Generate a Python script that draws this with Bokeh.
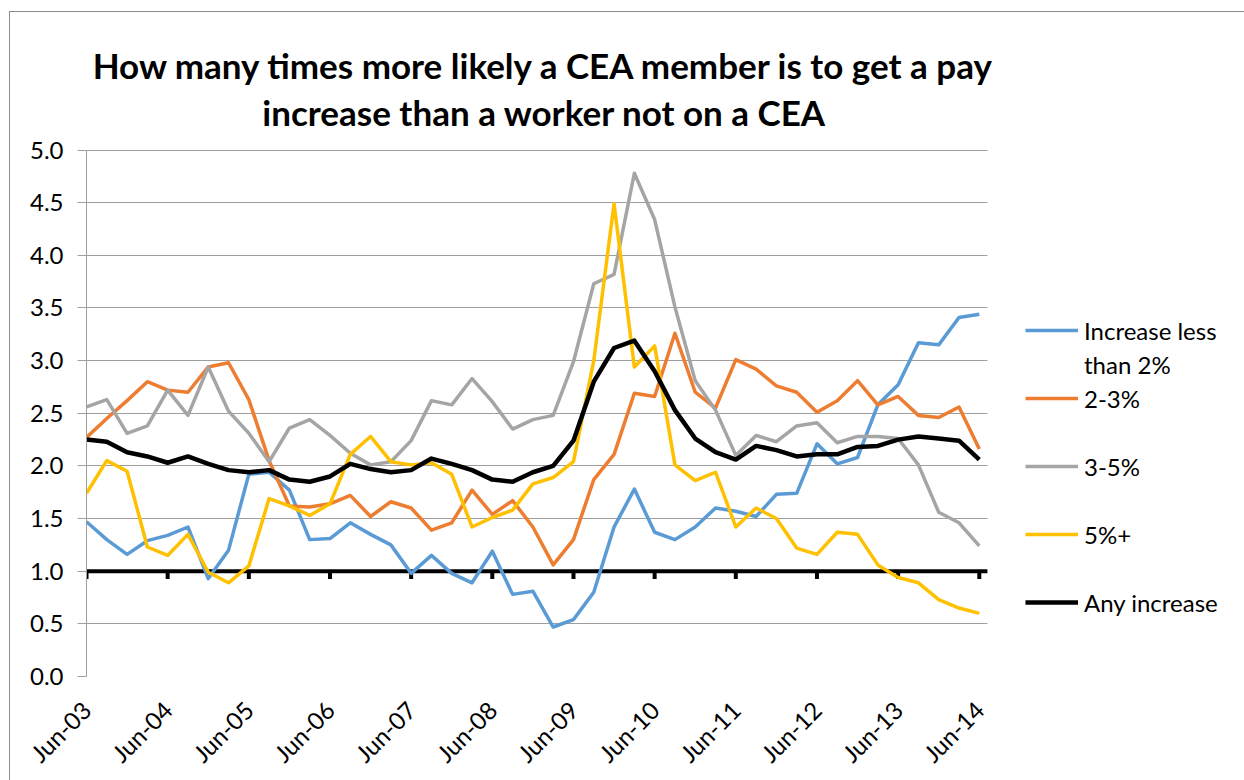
import math
from bokeh.plotting import figure
from bokeh.models import (Legend, LegendItem, FixedTicker, Label, Span, BoxAnnotation,
                          NumeralTickFormatter, Range1d, InlineStyleSheet)
from bokeh.embed import file_html
from bokeh.resources import INLINE

# ---------------- data ----------------
quarters = list(range(45))  # Jun-03 .. Jun-14, quarterly
tick_positions = quarters[::4]
tick_labels = ["Jun-03", "Jun-04", "Jun-05", "Jun-06", "Jun-07", "Jun-08",
               "Jun-09", "Jun-10", "Jun-11", "Jun-12", "Jun-13", "Jun-14"]

less_than_2 = [1.47, 1.30, 1.16, 1.29, 1.34, 1.42, 0.93, 1.20, 1.92, 1.94,
               1.77, 1.30, 1.31, 1.46, 1.35, 1.25, 0.98, 1.15, 0.98, 0.89,
               1.19, 0.78, 0.81, 0.47, 0.54, 0.80, 1.42, 1.78, 1.37, 1.30,
               1.42, 1.60, 1.57, 1.52, 1.73, 1.74, 2.21, 2.02, 2.08, 2.58,
               2.77, 3.17, 3.15, 3.41, 3.44]
pct_2_3 = [2.27, 2.45, 2.62, 2.80, 2.72, 2.70, 2.94, 2.98, 2.63, 2.05,
           1.62, 1.61, 1.64, 1.72, 1.52, 1.66, 1.60, 1.39, 1.46, 1.77,
           1.54, 1.67, 1.42, 1.06, 1.30, 1.87, 2.11, 2.69, 2.66, 3.26,
           2.70, 2.55, 3.01, 2.92, 2.76, 2.70, 2.51, 2.62, 2.81, 2.58,
           2.66, 2.48, 2.46, 2.56, 2.16]
pct_3_5 = [2.56, 2.63, 2.31, 2.38, 2.72, 2.48, 2.94, 2.52, 2.31, 2.04,
           2.36, 2.44, 2.29, 2.12, 2.01, 2.04, 2.24, 2.62, 2.58, 2.83,
           2.61, 2.35, 2.44, 2.48, 2.99, 3.73, 3.82, 4.78, 4.34, 3.51,
           2.81, 2.53, 2.10, 2.29, 2.23, 2.38, 2.41, 2.22, 2.28, 2.28,
           2.26, 2.01, 1.56, 1.46, 1.24]
pct_5_plus = [1.74, 2.05, 1.95, 1.23, 1.15, 1.35, 0.99, 0.89, 1.05, 1.69,
              1.62, 1.53, 1.64, 2.11, 2.28, 2.04, 2.01, 2.03, 1.92, 1.42,
              1.51, 1.58, 1.83, 1.89, 2.04, 3.00, 4.49, 2.94, 3.14, 2.01,
              1.86, 1.94, 1.42, 1.60, 1.50, 1.22, 1.16, 1.37, 1.35, 1.06,
              0.94, 0.89, 0.73, 0.65, 0.60]
any_increase = [2.25, 2.23, 2.13, 2.09, 2.03, 2.09, 2.02, 1.96, 1.94, 1.96,
                1.87, 1.85, 1.90, 2.02, 1.97, 1.94, 1.96, 2.07, 2.02, 1.96,
                1.87, 1.85, 1.94, 2.00, 2.24, 2.80, 3.12, 3.19, 2.90, 2.53,
                2.26, 2.13, 2.06, 2.19, 2.15, 2.09, 2.11, 2.11, 2.18, 2.19,
                2.25, 2.28, 2.26, 2.24, 2.06]

series_names = ["Increase less", "2-3%", "3-5%", "5%+", "Any increase"]
first_label_second_line = "than 2%"
y_ticks = [0.0, 0.5, 1.0, 1.5, 2.0, 2.5, 3.0, 3.5, 4.0, 4.5, 5.0]
title_lines = ["How many times more likely a CEA member is to get a pay",
               "increase than a worker not on a CEA"]

# ---------------- styling ----------------
FONT = "Lato"
GRID = "#9E9E9E"
colors = ["#5B9BD5", "#ED7D31", "#A5A5A5", "#FFC000", "#000000"]
widths = [3.5, 3.5, 3.5, 3.5, 4.5]

PLOT_X_END = 44.4      # right edge of the plotted area (x units)
FULL_X_END = 57.07     # frame reaches the right edge of the canvas
PLOT_Y_END = 5.0
FULL_Y_END = 6.4205    # frame reaches the top edge of the canvas

p = figure(width=1244, height=780, output_backend="svg", toolbar_location=None,
           title=None,
           x_range=Range1d(0, FULL_X_END), y_range=Range1d(0, FULL_Y_END),
           min_border_left=86, min_border_right=0,
           min_border_top=0, min_border_bottom=102)
p.outline_line_color = None
p.background_fill_color = "white"
p.border_fill_color = "white"

# thin chart-area border (top & left visible in the picture)
p.stylesheets = [InlineStyleSheet(css=(
    ":host::after { content: ''; position: absolute; left: 9px; top: 11px; "
    "right: 0; bottom: 0; border-left: 1px solid #8C8C8C; "
    "border-top: 1px solid #8C8C8C; pointer-events: none; }"))]

# y axis
yax = p.yaxis[0]
yax.bounds = (0, PLOT_Y_END)
yax.ticker = FixedTicker(ticks=y_ticks)
yax.formatter = NumeralTickFormatter(format="0.0")
yax.axis_line_color = GRID
yax.major_tick_line_color = GRID
yax.major_tick_out = 9
yax.major_tick_in = 0
yax.minor_tick_line_color = None
yax.major_label_standoff = 14
yax.major_label_text_font = FONT
yax.major_label_text_font_size = "24px"
yax.major_label_text_color = "black"
p.ygrid.ticker = FixedTicker(ticks=y_ticks)
p.ygrid.grid_line_color = GRID
p.xgrid.visible = False

# x axis (labels only at bottom; the axis line itself crosses at 1.0)
xax = p.xaxis[0]
xax.ticker = FixedTicker(ticks=tick_positions)
xax.major_label_overrides = {pos: lab for pos, lab in zip(tick_positions, tick_labels)}
xax.axis_line_color = None
xax.major_tick_line_color = None
xax.minor_tick_line_color = None
xax.major_label_orientation = math.pi / 4
xax.major_label_standoff = 23
xax.major_label_text_font = FONT
xax.major_label_text_font_size = "24px"
xax.major_label_text_color = "black"

p.add_layout(Span(location=1.0, dimension="width", line_color="black",
                  line_width=4, level="underlay"))
p.segment(x0=tick_positions, x1=tick_positions,
          y0=[1.0] * len(tick_positions), y1=[0.925] * len(tick_positions),
          line_color="black", line_width=4)

# series
all_series = [less_than_2, pct_2_3, pct_3_5, pct_5_plus, any_increase]
renderers = []
for vals, c, w in zip(all_series, colors, widths):
    r = p.line(quarters, vals, line_color=c, line_width=w, line_join="round")
    renderers.append(r)

# white cover for the legend area to the right of the plotted area
p.add_layout(BoxAnnotation(left=PLOT_X_END, top=PLOT_Y_END + 0.02,
                           fill_color="white", fill_alpha=1, line_alpha=0))

# invisible renderer used for the wrapped second line / spacing rows of the legend
blank = p.line([], [], line_alpha=0)

items = [
    LegendItem(label=series_names[0], renderers=[renderers[0]]),
    LegendItem(label=first_label_second_line, renderers=[blank]),
    LegendItem(label=series_names[1], renderers=[renderers[1]]),
    LegendItem(label=" ", renderers=[blank]),
    LegendItem(label=series_names[2], renderers=[renderers[2]]),
    LegendItem(label=" ", renderers=[blank]),
    LegendItem(label=series_names[3], renderers=[renderers[3]]),
    LegendItem(label=" ", renderers=[blank]),
    LegendItem(label=series_names[4], renderers=[renderers[4]]),
]
legend = Legend(items=items, location=(939, 59), padding=0, margin=0, spacing=4,
                glyph_width=53, glyph_height=30, label_height=30, label_standoff=6,
                label_text_font=FONT, label_text_font_size="24px",
                label_text_color="black",
                border_line_color=None, background_fill_alpha=0)
p.add_layout(legend)

# two-line title, each line centred, placed above the plotted area
TITLE_X = 22.57
for line, ty in zip(title_lines, [5.805, 5.36]):
    p.add_layout(Label(x=TITLE_X, y=ty, text=line, text_align="center",
                       text_baseline="alphabetic", text_font=FONT,
                       text_font_size="35px", text_font_style="bold",
                       text_color="black"))

open("out.html", "w").write(file_html(p, INLINE))
